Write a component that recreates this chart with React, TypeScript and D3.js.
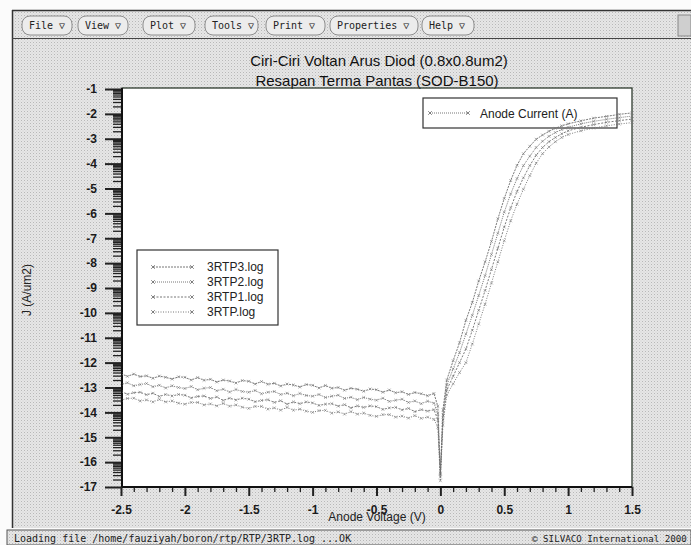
import React, { useRef, useEffect } from "react";
import * as d3 from "d3";

// anode voltage (V) shared by all four log files
const voltage = [
    -2.5, -2.45, -2.4, -2.35, -2.3, -2.25, -2.2, -2.15, -2.1, -2.05,
    -2, -1.95, -1.9, -1.85, -1.8, -1.75, -1.7, -1.65, -1.6, -1.55,
    -1.5, -1.45, -1.4, -1.35, -1.3, -1.25, -1.2, -1.15, -1.1, -1.05,
    -1, -0.95, -0.9, -0.85, -0.8, -0.75, -0.7, -0.65, -0.6, -0.55,
    -0.5, -0.45, -0.4, -0.35, -0.3, -0.25, -0.2, -0.15, -0.1, -0.05,
    -0.02, 0, 0.02, 0.05, 0.1, 0.15, 0.2, 0.25, 0.3, 0.35,
    0.4, 0.45, 0.5, 0.55, 0.6, 0.65, 0.7, 0.75, 0.8, 0.85,
    0.9, 0.95, 1, 1.1, 1.2, 1.3, 1.4, 1.5,
];

// log10 current density J (A/um2)
const rtp3 = [
    -12.45, -12.55, -12.46, -12.56, -12.53, -12.63, -12.54, -12.59, -12.66, -12.57,
    -12.59, -12.7, -12.6, -12.71, -12.67, -12.78, -12.7, -12.74, -12.82, -12.72,
    -12.75, -12.86, -12.76, -12.87, -12.83, -12.94, -12.86, -12.9, -12.98, -12.88,
    -12.91, -13.02, -12.92, -13.03, -13.0, -13.11, -13.03, -13.07, -13.15, -13.06,
    -13.09, -13.19, -13.1, -13.21, -13.17, -13.28, -13.2, -13.25, -13.33, -13.24,
    -13.75, -16.45, -13.9, -12.7, -11.92, -11.2, -10.3, -9.58, -8.72, -7.95,
    -7.13, -6.22, -5.4, -4.68, -4.07, -3.6, -3.3, -3.02, -2.85, -2.7,
    -2.58, -2.48, -2.4, -2.28, -2.17, -2.1, -2.02, -1.96,
];
const rtp2 = [
    -12.88, -12.81, -12.93, -12.88, -12.84, -12.97, -12.91, -13.02, -12.93, -13.0,
    -13.04, -12.96, -13.09, -13.03, -13.0, -13.13, -13.07, -13.18, -13.08, -13.16,
    -13.19, -13.12, -13.25, -13.19, -13.16, -13.28, -13.23, -13.33, -13.24, -13.32,
    -13.35, -13.28, -13.4, -13.35, -13.31, -13.44, -13.39, -13.49, -13.4, -13.47,
    -13.51, -13.43, -13.56, -13.51, -13.47, -13.6, -13.54, -13.65, -13.55, -13.63,
    -14.05, -16.6, -14.1, -12.9, -12.25, -11.6, -10.85, -10.1, -9.3, -8.5,
    -7.65, -6.8, -5.95, -5.22, -4.6, -4.08, -3.7, -3.35, -3.1, -2.9,
    -2.75, -2.63, -2.54, -2.4, -2.3, -2.22, -2.15, -2.09,
];
const rtp1 = [
    -13.16, -13.27, -13.21, -13.19, -13.29, -13.23, -13.36, -13.28, -13.34, -13.28,
    -13.31, -13.42, -13.36, -13.34, -13.44, -13.38, -13.52, -13.43, -13.5, -13.43,
    -13.47, -13.57, -13.52, -13.49, -13.6, -13.53, -13.67, -13.58, -13.65, -13.58,
    -13.62, -13.72, -13.67, -13.65, -13.75, -13.69, -13.82, -13.74, -13.8, -13.74,
    -13.77, -13.88, -13.82, -13.8, -13.9, -13.84, -13.97, -13.89, -13.95, -13.89,
    -14.3, -16.5, -14.3, -13.1, -12.55, -12.0, -11.45, -10.7, -9.9, -9.1,
    -8.25, -7.4, -6.55, -5.78, -5.12, -4.57, -4.08, -3.66, -3.35, -3.12,
    -2.95, -2.8, -2.68, -2.54, -2.43, -2.34, -2.27, -2.21,
];
const rtp0 = [
    -13.51, -13.44, -13.43, -13.54, -13.5, -13.58, -13.48, -13.58, -13.54, -13.63,
    -13.67, -13.6, -13.6, -13.7, -13.66, -13.74, -13.64, -13.75, -13.7, -13.79,
    -13.84, -13.76, -13.76, -13.87, -13.82, -13.91, -13.8, -13.91, -13.87, -13.95,
    -14.0, -13.93, -13.92, -14.03, -13.98, -14.07, -13.97, -14.07, -14.03, -14.12,
    -14.16, -14.09, -14.09, -14.19, -14.15, -14.23, -14.13, -14.24, -14.19, -14.28,
    -14.6, -16.75, -14.5, -13.3, -12.85, -12.4, -12.0, -11.25, -10.45, -9.65,
    -8.8, -7.95, -7.1, -6.3, -5.63, -5.03, -4.48, -3.98, -3.6, -3.33,
    -3.12, -2.95, -2.83, -2.68, -2.57, -2.48, -2.41, -2.35,
];

const seriesNames = ["3RTP3.log", "3RTP2.log", "3RTP1.log", "3RTP.log"];
const seriesValues = [rtp3, rtp2, rtp1, rtp0];
const seriesDash = ["2 1", "1 1", "2 1.5", "1 1.5"];

const xTicks = [-2.5, -2, -1.5, -1, -0.5, 0, 0.5, 1, 1.5];
const yTicks = [-17, -16, -15, -14, -13, -12, -11, -10, -9, -8, -7, -6, -5, -4, -3, -2, -1];

const menuItems = ["File", "View", "Plot", "Tools", "Print", "Properties", "Help"];
const menuX = [22, 78, 143, 205, 266, 330, 422];
const menuW = [50, 50, 52, 53, 59, 88, 52];

const titleLines = ["Ciri-Ciri Voltan Arus Diod (0.8x0.8um2)", "Resapan Terma Pantas (SOD-B150)"];
const statusText = "Loading file /home/fauziyah/boron/rtp/RTP/3RTP.log ...OK";
const copyText = "\u00a9 SILVACO International 2000";

const App = () => {
    const svgRef = useRef(null);

    useEffect(() => {
        const W = 691;
        const H = 545;
        const plot = { left: 122, top: 88, right: 632, bottom: 487 };

        const svg = d3.select(svgRef.current).attr("width", W).attr("height", H);
        svg.selectAll("*").remove();

        // scanned grey texture
        const defs = svg.append("defs");
        const pat = defs
            .append("pattern")
            .attr("id", "grain")
            .attr("width", 3)
            .attr("height", 3)
            .attr("patternUnits", "userSpaceOnUse");
        pat.append("rect").attr("width", 3).attr("height", 3).attr("fill", "#e6e6e6");
        pat.append("rect").attr("width", 1).attr("height", 1).attr("fill", "#b8b8b8");
        pat.append("rect").attr("x", 1.5).attr("y", 1.5).attr("width", 1).attr("height", 1).attr("fill", "#cfcfcf");
        defs
            .append("clipPath")
            .attr("id", "plotClip")
            .append("rect")
            .attr("x", plot.left)
            .attr("y", plot.top - 8)
            .attr("width", plot.right - plot.left + 8)
            .attr("height", plot.bottom - plot.top + 8);

        svg.append("rect").attr("width", W).attr("height", H).attr("fill", "#fbfbfb");
        // window
        svg.append("rect").attr("x", 12).attr("y", 10).attr("width", W - 12).attr("height", 518).attr("fill", "url(#grain)");
        svg.append("line").attr("x1", 12).attr("x2", W).attr("y1", 10.5).attr("y2", 10.5).attr("stroke", "#333").attr("stroke-width", 1.5);
        svg.append("line").attr("x1", 12.5).attr("x2", 12.5).attr("y1", 10).attr("y2", 528).attr("stroke", "#333").attr("stroke-width", 1.5);
        svg.append("line").attr("x1", 12).attr("x2", W).attr("y1", 38.5).attr("y2", 38.5).attr("stroke", "#444");

        // menu buttons
        const menu = svg.append("g").attr("font-family", "'DejaVu Sans Mono', monospace").attr("font-size", 10).attr("fill", "#222");
        menuItems.forEach((m, i) => {
            menu
                .append("rect")
                .attr("x", menuX[i])
                .attr("y", 16)
                .attr("width", menuW[i])
                .attr("height", 19)
                .attr("rx", 8)
                .attr("fill", "#ececec")
                .attr("stroke", "#777")
                .attr("stroke-width", 0.8);
            menu
                .append("text")
                .attr("x", menuX[i] + 7)
                .attr("y", 29)
                .text(m + " \u25bd");
        });
        svg.append("rect").attr("x", 678).attr("y", 15).attr("width", 13).attr("height", 21).attr("fill", "#cfcfcf").attr("stroke", "#888");

        // plot area
        svg
            .append("rect")
            .attr("x", plot.left)
            .attr("y", plot.top)
            .attr("width", plot.right - plot.left)
            .attr("height", plot.bottom - plot.top)
            .attr("fill", "#fff");

        const x = d3.scaleLinear().domain([-2.5, 1.5]).range([121, plot.right]);
        const y = d3.scaleLinear().domain([-17, -1]).range([plot.bottom, 89]);

        // titles
        const title = svg.append("g").attr("font-family", "'Liberation Sans', Arial, sans-serif").attr("font-size", 15).attr("fill", "#111").attr("text-anchor", "middle");
        title.append("text").attr("x", 379).attr("y", 66).text(titleLines[0]);
        title.append("text").attr("x", 377).attr("y", 86).text(titleLines[1]);

        // y axis (log decades with minor ticks)
        const yMinor = [];
        yTicks.forEach((t) => {
            if (t === -17) return;
            for (let k = 2; k <= 9; k++) yMinor.push(t - 1 + Math.log10(k));
        });
        const yAxisMinor = svg
            .append("g")
            .attr("transform", `translate(${plot.left},0)`)
            .call(d3.axisLeft(y).tickValues(yMinor).tickSize(9).tickFormat(() => ""));
        const yAxis = svg
            .append("g")
            .attr("transform", `translate(${plot.left},0)`)
            .call(d3.axisLeft(y).tickValues(yTicks).tickSize(17).tickPadding(8).tickFormat((d) => String(d)));

        const xMinor = d3.range(-25, 16).map((d) => d / 10).filter((d) => Math.abs(d * 2 - Math.round(d * 2)) > 1e-6);
        const xAxisMinor = svg
            .append("g")
            .attr("transform", `translate(0,${plot.bottom})`)
            .call(d3.axisBottom(x).tickValues(xMinor).tickSize(5).tickFormat(() => ""));
        const xAxis = svg
            .append("g")
            .attr("transform", `translate(0,${plot.bottom})`)
            .call(d3.axisBottom(x).tickValues(xTicks).tickSize(9).tickPadding(9).tickFormat((d) => String(d)));

        [yAxisMinor, yAxis, xAxisMinor, xAxis].forEach((g) => {
            g.select(".domain").remove();
            g.selectAll("line").attr("stroke", "#222").attr("stroke-width", 1.3);
            g.selectAll("text")
                .attr("fill", "#1a1a1a")
                .style("font-family", "'Liberation Sans', Arial, sans-serif")
                .style("font-size", "12px")
                .style("font-weight", "bold");
        });
        yAxis.selectAll("line").attr("stroke-width", 2);
        xAxis.selectAll("line").attr("stroke-width", 2);

        // frame
        svg
            .append("rect")
            .attr("x", plot.left)
            .attr("y", plot.top)
            .attr("width", plot.right - plot.left)
            .attr("height", plot.bottom - plot.top)
            .attr("fill", "none")
            .attr("stroke", "#2d3a2d")
            .attr("stroke-width", 1.3);
        svg.append("line").attr("x1", plot.left).attr("x2", plot.right).attr("y1", plot.bottom).attr("y2", plot.bottom).attr("stroke", "#111").attr("stroke-width", 2);
        svg.append("line").attr("x1", plot.left).attr("x2", plot.left).attr("y1", plot.top).attr("y2", plot.bottom).attr("stroke", "#111").attr("stroke-width", 2);

        // axis titles
        svg
            .append("text")
            .attr("transform", "translate(31,290) rotate(-90)")
            .attr("text-anchor", "middle")
            .attr("font-family", "'Liberation Sans', Arial, sans-serif")
            .attr("font-size", 12)
            .attr("fill", "#222")
            .text("J (A/um2)");
        svg
            .append("text")
            .attr("x", 377)
            .attr("y", 521)
            .attr("text-anchor", "middle")
            .attr("font-family", "'Liberation Sans', Arial, sans-serif")
            .attr("font-size", 12)
            .attr("fill", "#222")
            .text("Anode Voltage (V)");

        // legends
        const legBox = (x0, y0, w, h) =>
            svg
                .append("rect")
                .attr("x", x0)
                .attr("y", y0)
                .attr("width", w)
                .attr("height", h)
                .attr("fill", "#fff")
                .attr("stroke", "#333")
                .attr("stroke-width", 1.2);
        const cross = "M-1.8,-1.8L1.8,1.8M-1.8,1.8L1.8,-1.8";
        const sample = (x0, x1, yy, dash) => {
            svg.append("line").attr("x1", x0).attr("x2", x1).attr("y1", yy).attr("y2", yy).attr("stroke", "#666").attr("stroke-width", 0.9).attr("stroke-dasharray", dash);
            [x0, x1].forEach((px) =>
                svg.append("path").attr("d", cross).attr("transform", `translate(${px},${yy})`).attr("stroke", "#666").attr("stroke-width", 0.8)
            );
        };

        legBox(423, 98, 194, 30);
        sample(430, 468, 113, "1 1");
        svg
            .append("text")
            .attr("x", 480)
            .attr("y", 118)
            .attr("font-family", "'Liberation Sans', Arial, sans-serif")
            .attr("font-size", 12)
            .attr("fill", "#222")
            .text("Anode Current (A)");

        legBox(137, 250, 141, 75);
        seriesNames.forEach((n, i) => {
            const yy = 267 + i * 15;
            sample(153, 192, yy, seriesDash[i]);
            svg
                .append("text")
                .attr("x", 207)
                .attr("y", yy + 4)
                .attr("font-family", "'Liberation Sans', Arial, sans-serif")
                .attr("font-size", 12)
                .attr("fill", "#222")
                .text(n);
        });

        // curves
        const curves = svg.append("g").attr("clip-path", "url(#plotClip)");
        const line = d3
            .line()
            .x((d) => x(d[0]))
            .y((d) => y(d[1]));
        seriesValues.forEach((vals, i) => {
            const pts = voltage.map((v, j) => [v, vals[j]]);
            curves
                .append("path")
                .attr("d", line(pts))
                .attr("fill", "none")
                .attr("stroke", "#6b6b6b")
                .attr("stroke-width", 0.9)
                .attr("stroke-dasharray", seriesDash[i]);
            curves
                .selectAll(null)
                .data(pts)
                .enter()
                .append("path")
                .attr("d", "M-1.4,-1.4L1.4,1.4M-1.4,1.4L1.4,-1.4")
                .attr("transform", (d) => `translate(${x(d[0])},${y(d[1])})`)
                .attr("stroke", "#7a7a7a")
                .attr("stroke-width", 0.6);
        });

        // status bar
        svg.append("rect").attr("x", 7).attr("y", 530).attr("width", W - 7).attr("height", 15).attr("fill", "url(#grain)").attr("stroke", "#555");
        const status = svg.append("g").attr("font-family", "'DejaVu Sans Mono', monospace").attr("fill", "#222");
        status.append("text").attr("x", 14).attr("y", 542).attr("font-size", 10).text(statusText);
        status.append("text").attr("x", 532).attr("y", 542).attr("font-size", 9.2).text(copyText);
    }, []);

    return (
        <div style={{ position: "fixed", left: 0, top: 0 }}>
            <svg ref={svgRef} style={{ display: "block" }}></svg>
        </div>
    );
};

export default App;
